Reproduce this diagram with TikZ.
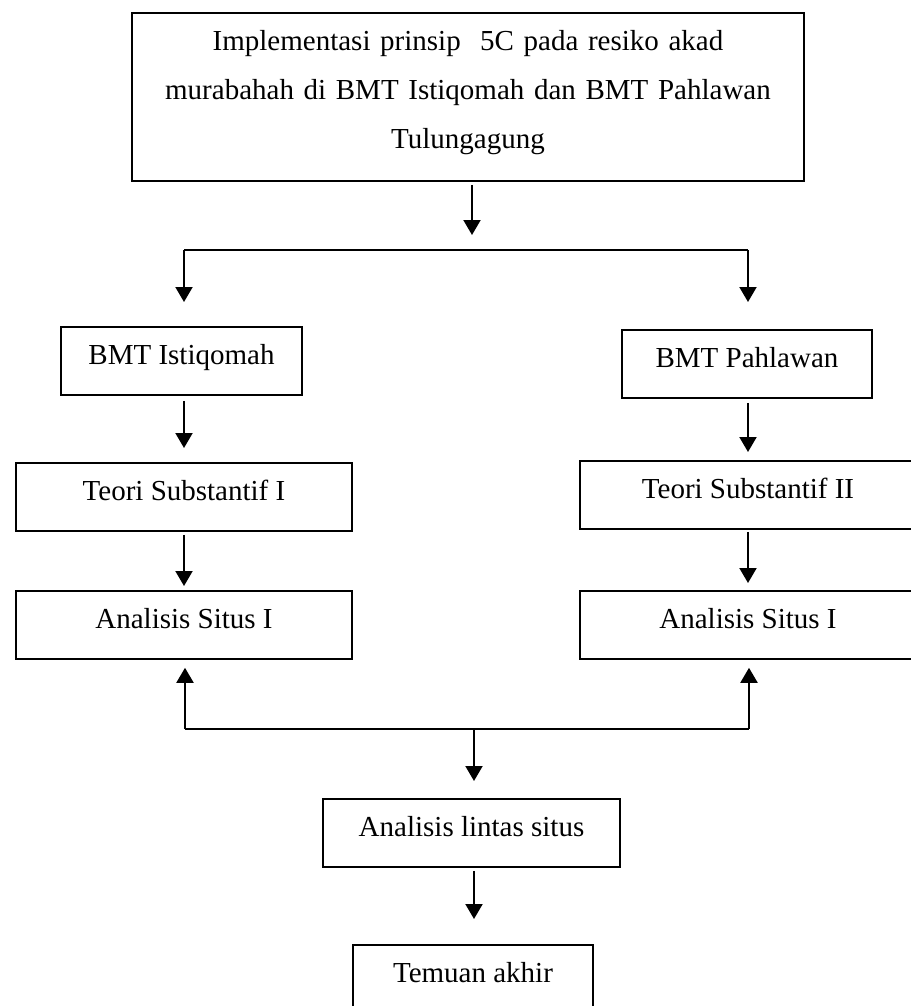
\documentclass[tikz,border=0pt]{standalone}
\usepackage{fontspec}
\setmainfont{Liberation Serif}
\usepackage{tikz}
\usetikzlibrary{arrows.meta, positioning, calc, }

\tikzset{
    kotak/.style={draw, line width=1.8pt, inner sep=0pt, anchor=north,
        text height=38pt, text depth=30pt, align=center},
    panah/.style={->, line width=2pt},
    garis/.style={line width=2pt},
}

\begin{document}
\begin{tikzpicture}[>={Triangle[length=15pt, width=17pt]}, x=1pt, y=-1pt,
    every node/.style={font=\fontsize{29}{49}\selectfont}]
    \useasboundingbox (0, 0) rectangle (910, 1006);

    % kotak judul
    \node[kotak, text width=672pt, text depth=130pt] (judul) at (468, 12)
        {Implementasi prinsip~ 5C pada resiko akad\\
         murabahah di BMT Istiqomah dan BMT Pahlawan\\
         Tulungagung};

    % dua situs
    \node[kotak, minimum width=241pt] (istiqomah) at (181.5, 326) {BMT Istiqomah};
    \node[kotak, minimum width=250pt] (pahlawan) at (747, 329) {BMT Pahlawan};

    \node[kotak, minimum width=336pt] (teori1) at (184, 462) {Teori Substantif I};
    \node[kotak, minimum width=336pt] (teori2) at (748, 460) {Teori Substantif II};

    \node[kotak, minimum width=336pt] (situs1) at (184, 590) {Analisis Situs I};
    \node[kotak, minimum width=336pt] (situs2) at (748, 590) {Analisis Situs I};

    \node[kotak, minimum width=297pt] (lintas) at (471.5, 798) {Analisis lintas situs};
    \node[kotak, minimum width=240pt] (temuan) at (473, 944) {Temuan akhir};

    % percabangan atas
    \coordinate (cabang) at (472, 250);
    \coordinate (kiriatas) at (184, 250);
    \coordinate (kananatas) at (748, 250);
    \draw[panah, shorten <=3pt, shorten >=15pt] (judul.south -| cabang) -- (cabang);
    \draw[garis] (kiriatas) -- (kananatas);
    \draw[panah, shorten >=24pt] (kiriatas) -- (kiriatas |- istiqomah.north);
    \draw[panah, shorten >=27pt] (kananatas) -- (kananatas |- pahlawan.north);

    \draw[panah, shorten <=5pt, shorten >=14pt] (istiqomah.south -| teori1) -- (teori1.north);
    \draw[panah, shorten <=4pt, shorten >=8pt] (pahlawan.south -| teori2) -- (teori2.north);
    \draw[panah, shorten <=3pt, shorten >=4pt] (teori1.south) -- (situs1.north);
    \draw[panah, shorten <=2pt, shorten >=7pt] (teori2.south) -- (situs2.north);

    % penggabungan bawah
    \coordinate (gabung) at (474, 729);
    \coordinate (kiribawah) at (185, 729);
    \coordinate (kananbawah) at (749, 729);
    \draw[garis] (kiribawah) -- (kananbawah);
    \draw[panah, shorten >=8pt] (kiribawah) -- (kiribawah |- situs1.south);
    \draw[panah, shorten >=8pt] (kananbawah) -- (kananbawah |- situs2.south);
    \draw[panah, shorten >=17pt] (gabung) -- (gabung |- lintas.north);

    \draw[panah, shorten <=3pt, shorten >=25pt] (lintas.south -| gabung) -- (temuan.north -| gabung);

\end{tikzpicture}
\end{document}
